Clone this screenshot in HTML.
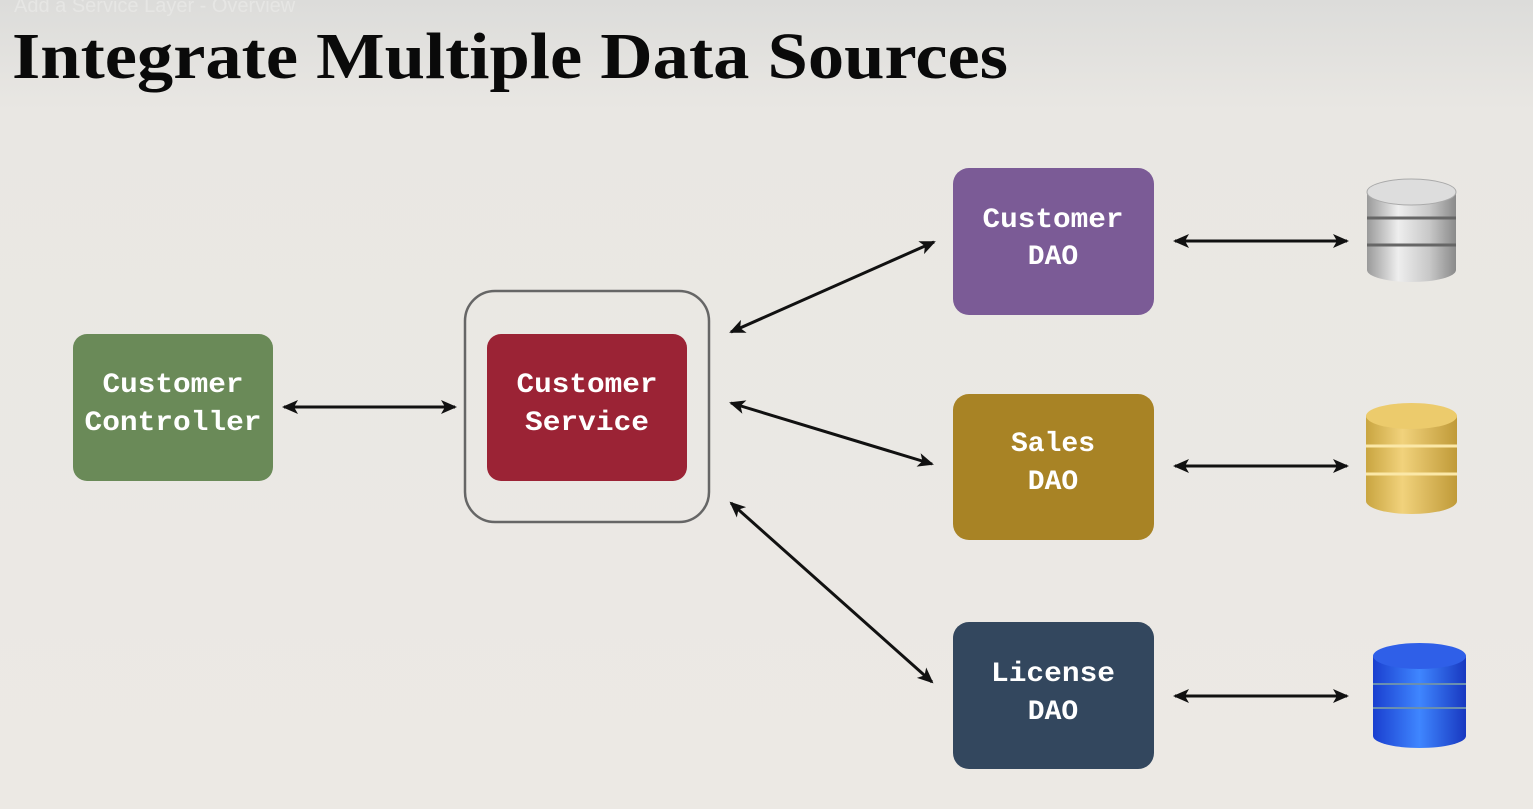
<!DOCTYPE html>
<html><head><style>
html,body{margin:0;padding:0;}
body{width:1533px;height:809px;overflow:hidden;background:linear-gradient(#dcdcda 0px,#e9e7e3 110px,#ece9e4 809px);}
</style></head><body>
<svg width="1533" height="809" xmlns="http://www.w3.org/2000/svg" style="position:absolute;left:0;top:0">
<defs>
<marker id="a" markerWidth="16" markerHeight="16" refX="14" refY="8" orient="auto-start-reverse" markerUnits="userSpaceOnUse" viewBox="0 0 16 16"><path d="M0,1 L16,8 L0,15 L4,8 z" fill="#111"/></marker>
<linearGradient id="sil" x1="0" x2="1"><stop offset="0" stop-color="#9a9a9a"/><stop offset=".35" stop-color="#eee"/><stop offset=".7" stop-color="#c8c8c8"/><stop offset="1" stop-color="#8a8a8a"/></linearGradient>
<linearGradient id="gld" x1="0" x2="1"><stop offset="0" stop-color="#c9a540"/><stop offset=".4" stop-color="#f1d27c"/><stop offset="1" stop-color="#c09a38"/></linearGradient>
<linearGradient id="blu" x1="0" x2="1"><stop offset="0" stop-color="#1a3fcf"/><stop offset=".5" stop-color="#3f86ff"/><stop offset="1" stop-color="#1838c0"/></linearGradient>
</defs>
<text x="14" y="12" font-family="Liberation Sans, sans-serif" font-size="20" fill="#e6e6e4">Add a Service Layer - Overview</text>
<text x="12" y="78" font-family="Liberation Serif, serif" font-weight="bold" font-size="66" textLength="996" lengthAdjust="spacingAndGlyphs" fill="#0a0a0a">Integrate Multiple Data Sources</text>

<g font-family="Liberation Mono, monospace" font-weight="bold" font-size="28" fill="#fff" text-anchor="middle">
<rect x="73" y="334" width="200" height="147" rx="14" fill="#6a8a58"/>
<text x="173" y="392" textLength="141" lengthAdjust="spacingAndGlyphs">Customer</text><text x="173" y="430" textLength="177" lengthAdjust="spacingAndGlyphs">Controller</text>
<rect x="465" y="291" width="244" height="231" rx="30" fill="none" stroke="#666" stroke-width="2.5"/>
<rect x="487" y="334" width="200" height="147" rx="14" fill="#9b2335"/>
<text x="587" y="392" textLength="141" lengthAdjust="spacingAndGlyphs">Customer</text><text x="587" y="430" textLength="124" lengthAdjust="spacingAndGlyphs">Service</text>
<rect x="953" y="168" width="201" height="147" rx="16" fill="#7b5b96"/>
<text x="1053" y="227" textLength="141" lengthAdjust="spacingAndGlyphs">Customer</text><text x="1053" y="264">DAO</text>
<rect x="953" y="394" width="201" height="146" rx="16" fill="#a88325"/>
<text x="1053" y="451">Sales</text><text x="1053" y="489">DAO</text>
<rect x="953" y="622" width="201" height="147" rx="16" fill="#33475e"/>
<text x="1053" y="681" textLength="124" lengthAdjust="spacingAndGlyphs">License</text><text x="1053" y="719">DAO</text>
</g>

<g stroke="#111" stroke-width="3" marker-start="url(#a)" marker-end="url(#a)">
<line x1="284" y1="407" x2="455" y2="407"/>
<line x1="731" y1="332" x2="934" y2="242"/>
<line x1="731" y1="403" x2="932" y2="464"/>
<line x1="731" y1="503" x2="932" y2="682"/>
<line x1="1175" y1="241" x2="1347" y2="241"/>
<line x1="1175" y1="466" x2="1347" y2="466"/>
<line x1="1175" y1="696" x2="1347" y2="696"/>
</g>

<g>
<rect x="1367" y="192" width="89" height="78" fill="url(#sil)"/>
<ellipse cx="1411.5" cy="270" rx="44.5" ry="12" fill="url(#sil)"/>
<line x1="1367" y1="218" x2="1456" y2="218" stroke="#666" stroke-width="3"/>
<line x1="1367" y1="245" x2="1456" y2="245" stroke="#666" stroke-width="3"/>
<ellipse cx="1411.5" cy="192" rx="44.5" ry="13" fill="#ddd" stroke="#aaa"/>
</g>
<g>
<rect x="1366" y="416" width="91" height="85" fill="url(#gld)"/>
<ellipse cx="1411.5" cy="501" rx="45.5" ry="13" fill="url(#gld)"/>
<line x1="1366" y1="446" x2="1457" y2="446" stroke="#fbe8a8" stroke-width="3"/>
<line x1="1366" y1="474" x2="1457" y2="474" stroke="#fbe8a8" stroke-width="3"/>
<ellipse cx="1411.5" cy="416" rx="45.5" ry="13" fill="#eccb6c"/>
</g>
<g>
<rect x="1373" y="656" width="93" height="80" fill="url(#blu)"/>
<ellipse cx="1419.5" cy="736" rx="46.5" ry="12" fill="url(#blu)"/>
<line x1="1373" y1="684" x2="1466" y2="684" stroke="#6a8fb0" stroke-width="2"/>
<line x1="1373" y1="708" x2="1466" y2="708" stroke="#6a8fb0" stroke-width="2"/>
<ellipse cx="1419.5" cy="656" rx="46.5" ry="13" fill="#2f5fe8"/>
</g>
</svg>
</body></html>
